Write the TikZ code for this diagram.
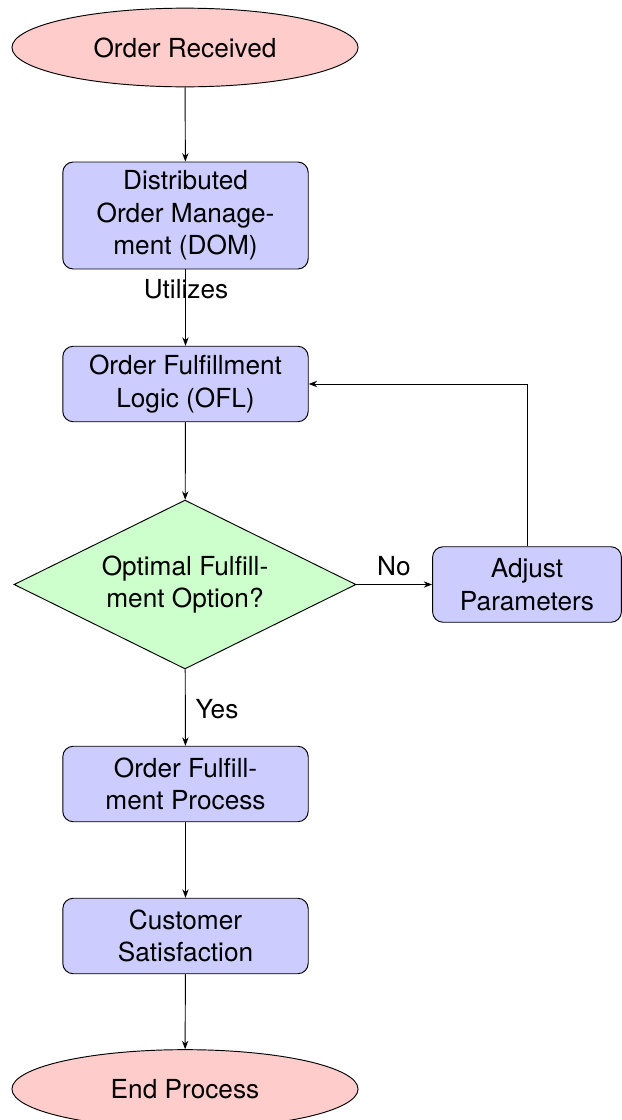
\documentclass[tikz,border=0pt]{standalone}
\usepackage{fontspec}
\setmainfont{TeX Gyre Heros}
\usetikzlibrary{shapes.geometric,arrows.meta}
\begin{document}
\begin{tikzpicture}[x=0.01675cm,y=-0.01675cm,
  font=\fontsize{12.5}{15.5}\selectfont,
  base/.style={draw=black, line width=0.45pt, align=center, inner sep=0pt},
  term/.style={base, ellipse, fill=red!20, minimum width=165pt, minimum height=37.5pt},
  proc/.style={base, rectangle, rounded corners=5pt, fill=blue!20, minimum width=117pt},
  dec/.style={base, diamond, aspect=2.02, fill=green!20, minimum width=163pt, minimum height=80.5pt},
  conn/.style={draw=black, line width=0.45pt, -{Stealth[length=4pt,width=3pt]}},
  lbl/.style={inner sep=0pt}]
\useasboundingbox (0,0) rectangle (622,1120);
\node[term] (start) at (185,47.5) {Order Received};
\node[proc, minimum height=51pt] (dom) at (185.5,215.5) {Distributed\\Order Manage-\\ment (DOM)};
\node[proc, minimum height=36pt] (ofl) at (185.5,384) {Order Fulfillment\\Logic (OFL)};
\node[dec] (opt) at (185,584.5) {Optimal Fulfill-\\ment Option?};
\node[proc, minimum width=90pt, minimum height=36pt] (adj) at (527,584.5) {Adjust\\Parameters};
\node[proc, minimum height=36pt] (ofp) at (185.5,784) {Order Fulfill-\\ment Process};
\node[proc, minimum height=36pt] (cs) at (185.5,936) {Customer\\Satisfaction};
\node[term] (end) at (185,1089) {End Process};
\coordinate (corner) at (adj.north |- ofl.east);
\draw[conn] (start) -- (dom);
\draw[conn] (dom) -- (ofl);
\node[lbl] (util) at (186,289) {Utilizes};
\draw[conn] (ofl) -- (opt);
\draw[conn] (opt) -- (adj);
\node[lbl] (no) at (394,566) {No};
\draw[conn] (adj.north) -- (corner) -- (ofl.east);
\draw[conn] (opt) -- (ofp);
\node[lbl] (yes) at (217,709) {Yes};
\draw[conn] (ofp) -- (cs);
\draw[conn] (cs) -- (end);
\end{tikzpicture}
\end{document}
